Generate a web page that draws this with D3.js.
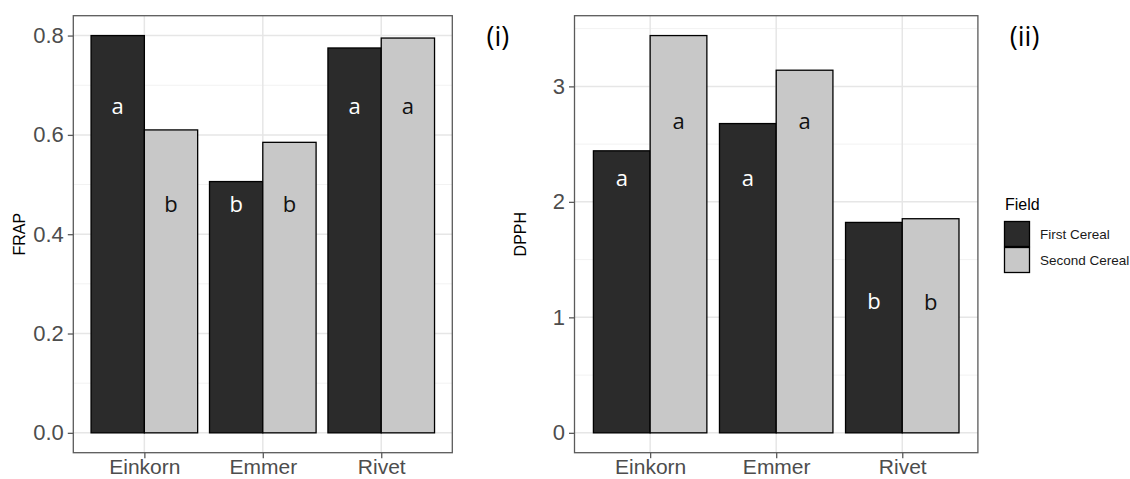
<!DOCTYPE html>
<html>
<head>
<meta charset="utf-8">
<script src="https://cdn.jsdelivr.net/npm/d3@7"></script>
<style>
  html, body { margin: 0; padding: 0; background: #fff; }
  svg { display: block; }
</style>
</head>
<body>
<svg id="chart" width="1130" height="479"></svg>
<script>
// ---------- data ----------
const categories = ["Einkorn", "Emmer", "Rivet"];
const fields = ["First Cereal", "Second Cereal"];

const frapFirst = [0.800, 0.506, 0.775];
const frapSecond = [0.610, 0.585, 0.795];
const frapTicks = [0.0, 0.2, 0.4, 0.6, 0.8];
const frapMinor = [0.1, 0.3, 0.5, 0.7];
const frapLettersFirst = ["a", "b", "a"];
const frapLettersSecond = ["b", "b", "a"];
const frapLetterYFirst = [0.643, 0.444, 0.643];
const frapLetterYSecond = [0.444, 0.444, 0.643];

const dpphFirst = [2.442, 2.678, 1.822];
const dpphSecond = [3.440, 3.140, 1.854];
const dpphTicks = [0, 1, 2, 3];
const dpphMinor = [0.5, 1.5, 2.5, 3.5];
const dpphLettersFirst = ["a", "a", "b"];
const dpphLettersSecond = ["a", "a", "b"];
const dpphLetterYFirst = [2.14, 2.14, 1.07];
const dpphLetterYSecond = [2.63, 2.63, 1.06];

const fillColors = ["#2b2b2b", "#c8c8c8"];
const letterColors = ["#ffffff", "#111111"];

const svg = d3.select("#chart");

function drawPanel(opt) {
  const { left, right, top, bottom, first, second, ticks, minor, tickFmt,
          lettersFirst, lettersSecond, letterYFirst, letterYSecond, title, tag, tagX } = opt;
  const maxV = d3.max(first.concat(second));
  const y = d3.scaleLinear().domain([-0.05 * maxV, maxV * 1.05]).range([bottom, top]);
  const x = d3.scalePoint().domain(categories).range([left, right]).padding(0.6);
  const step = x.step();
  const inner = d3.scaleBand().domain(fields).range([-0.45 * step, 0.45 * step]).padding(0);

  const g = svg.append("g");

  // grid
  g.selectAll(".minor").data(minor).join("line")
    .attr("x1", left).attr("x2", right)
    .attr("y1", d => y(d)).attr("y2", d => y(d))
    .attr("stroke", "#f2f2f2").attr("stroke-width", 1);
  g.selectAll(".majorY").data(ticks).join("line")
    .attr("x1", left).attr("x2", right)
    .attr("y1", d => y(d)).attr("y2", d => y(d))
    .attr("stroke", "#e6e6e6").attr("stroke-width", 1.5);
  g.selectAll(".majorX").data(categories).join("line")
    .attr("x1", d => x(d)).attr("x2", d => x(d))
    .attr("y1", top).attr("y2", bottom)
    .attr("stroke", "#e6e6e6").attr("stroke-width", 1.5);

  // bars
  const rows = [];
  categories.forEach((c, i) => {
    rows.push({ c, f: fields[0], v: first[i], k: 0, letter: lettersFirst[i], ly: letterYFirst[i] });
    rows.push({ c, f: fields[1], v: second[i], k: 1, letter: lettersSecond[i], ly: letterYSecond[i] });
  });
  g.selectAll(".bar").data(rows).join("rect")
    .attr("x", d => x(d.c) + inner(d.f))
    .attr("width", inner.bandwidth())
    .attr("y", d => y(d.v))
    .attr("height", d => y(0) - y(d.v))
    .attr("fill", d => fillColors[d.k])
    .attr("stroke", "#000").attr("stroke-width", 1.3);

  // letters
  g.selectAll(".letter").data(rows).join("text")
    .attr("x", d => x(d.c) + inner(d.f) + inner.bandwidth() / 2)
    .attr("y", d => y(d.ly))
    .attr("text-anchor", "middle")
    .attr("font-family", "'Open Sans', sans-serif")
    .attr("font-size", 22)
    .attr("fill", d => letterColors[d.k])
    .text(d => d.letter);

  // panel border
  g.append("rect").attr("x", left).attr("y", top)
    .attr("width", right - left).attr("height", bottom - top)
    .attr("fill", "none").attr("stroke", "#5a5a5a").attr("stroke-width", 1.3);

  // y axis
  const yAxis = d3.axisLeft(y).tickValues(ticks).tickFormat(tickFmt).tickSize(5.5).tickPadding(4);
  const ya = g.append("g").attr("transform", `translate(${left},0)`).call(yAxis);
  ya.select(".domain").remove();
  ya.selectAll(".tick line").attr("stroke", "#5a5a5a").attr("stroke-width", 1.3);
  ya.selectAll(".tick text").attr("font-family", "'Liberation Sans', Arial, sans-serif")
    .attr("font-size", 22).attr("fill", "#4d4d4d");

  // x axis
  const xAxis = d3.axisBottom(x).tickSize(5.5).tickPadding(3);
  const xa = g.append("g").attr("transform", `translate(0,${bottom})`).call(xAxis);
  xa.select(".domain").remove();
  xa.selectAll(".tick line").attr("stroke", "#5a5a5a").attr("stroke-width", 1.3);
  xa.selectAll(".tick text").attr("font-family", "'Liberation Sans', Arial, sans-serif")
    .attr("font-size", 21).attr("fill", "#4d4d4d")
    .attr("dy", null).attr("y", 21.5);

  // axis title
  g.append("text")
    .attr("transform", `translate(${left - 48.5},${(top + bottom) / 2}) rotate(-90)`)
    .attr("text-anchor", "middle")
    .attr("font-family", "'Liberation Sans', Arial, sans-serif")
    .attr("font-size", 16).attr("fill", "#000")
    .text(title);

  // panel tag
  g.append("text")
    .attr("x", tagX).attr("y", 46)
    .attr("text-anchor", "middle")
    .attr("font-family", "'Open Sans', sans-serif")
    .attr("font-size", 27).attr("fill", "#000")
    .text(tag);
}

drawPanel({
  left: 73.3, right: 452.3, top: 15.7, bottom: 452.7,
  first: frapFirst, second: frapSecond, ticks: frapTicks, minor: frapMinor,
  tickFmt: d3.format(".1f"),
  lettersFirst: frapLettersFirst, lettersSecond: frapLettersSecond,
  letterYFirst: frapLetterYFirst, letterYSecond: frapLetterYSecond,
  title: "FRAP", tag: "(i)", tagX: 497.8
});

drawPanel({
  left: 574.5, right: 977.9, top: 15.7, bottom: 452.7,
  first: dpphFirst, second: dpphSecond, ticks: dpphTicks, minor: dpphMinor,
  tickFmt: d3.format("d"),
  lettersFirst: dpphLettersFirst, lettersSecond: dpphLettersSecond,
  letterYFirst: dpphLetterYFirst, letterYSecond: dpphLetterYSecond,
  title: "DPPH", tag: "(ii)", tagX: 1024.6
});

// legend
const legend = svg.append("g");
legend.append("text")
  .attr("x", 1005).attr("y", 209.7)
  .attr("font-family", "'Liberation Sans', Arial, sans-serif")
  .attr("font-size", 16).attr("fill", "#000")
  .text("Field");
const keyY = d3.scaleBand().domain(fields).range([221, 273]).padding(0);
legend.selectAll(".key").data(fields).join("rect")
  .attr("x", 1004.5).attr("y", d => keyY(d) + 0.5)
  .attr("width", 25).attr("height", keyY.bandwidth() - 1)
  .attr("fill", (d, i) => fillColors[i])
  .attr("stroke", "#000").attr("stroke-width", 1.3);
legend.selectAll(".keylabel").data(fields).join("text")
  .attr("x", 1040).attr("y", d => keyY(d) + keyY.bandwidth() / 2 + 4.8)
  .attr("font-family", "'Liberation Sans', Arial, sans-serif")
  .attr("font-size", 13.5).attr("fill", "#1a1a1a")
  .text(d => d);
</script>
</body>
</html>
